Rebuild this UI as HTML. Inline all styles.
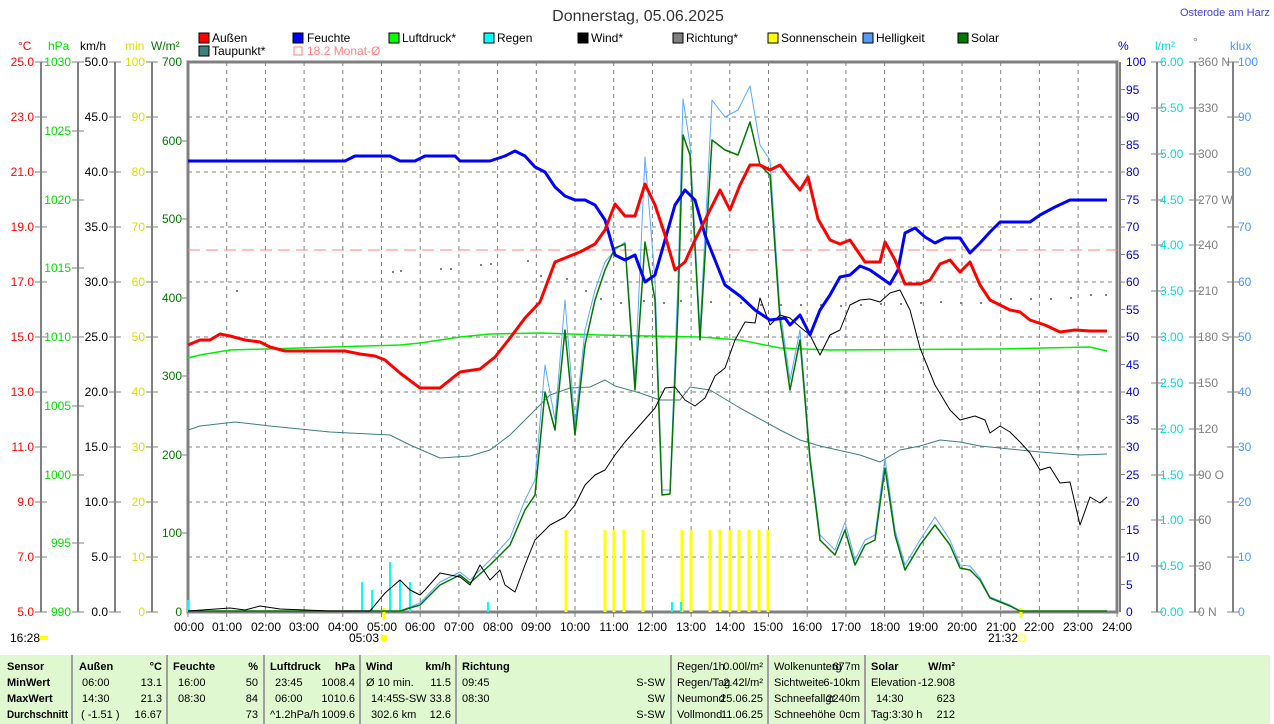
<!DOCTYPE html>
<html><head><meta charset="utf-8"><style>
body{margin:0;background:#fff;width:1274px;height:724px;overflow:hidden}
svg{position:absolute;left:0;top:0;font-family:"Liberation Sans",sans-serif;font-size:12px}
</style></head><body>
<svg width="1274" height="724" viewBox="0 0 1274 724">
<rect x="0" y="655" width="1270" height="69" fill="#E0F8D0"/>
<g stroke="#A0A0A0" stroke-width="2"><line x1="72" y1="655" x2="72" y2="724"/><line x1="167" y1="655" x2="167" y2="724"/><line x1="264" y1="655" x2="264" y2="724"/><line x1="360" y1="655" x2="360" y2="724"/><line x1="456" y1="655" x2="456" y2="724"/><line x1="671" y1="655" x2="671" y2="724"/><line x1="768" y1="655" x2="768" y2="724"/><line x1="865" y1="655" x2="865" y2="724"/></g>
<text x="638" y="21" font-size="16" text-anchor="middle" fill="#333">Donnerstag, 05.06.2025</text>
<text x="1180" y="16" font-size="11" fill="#4040E0">Osterode am Harz</text>
<g font-size="12">
<rect x="199" y="33" width="10" height="10" fill="red" stroke="#000"/><text x="212" y="42">Außen</text>
<rect x="293" y="33" width="10" height="10" fill="blue" stroke="#000"/><text x="307" y="42">Feuchte</text>
<rect x="389" y="33" width="10" height="10" fill="#00FF00" stroke="#000"/><text x="402" y="42">Luftdruck*</text>
<rect x="484" y="33" width="10" height="10" fill="cyan" stroke="#000"/><text x="497" y="42">Regen</text>
<rect x="578" y="33" width="10" height="10" fill="#000" stroke="#000"/><text x="591" y="42">Wind*</text>
<rect x="673" y="33" width="10" height="10" fill="#808080" stroke="#000"/><text x="686" y="42">Richtung*</text>
<rect x="768" y="33" width="10" height="10" fill="yellow" stroke="#000"/><text x="781" y="42">Sonnenschein</text>
<rect x="863" y="33" width="10" height="10" fill="#5599FF" stroke="#000"/><text x="876" y="42">Helligkeit</text>
<rect x="958" y="33" width="10" height="10" fill="#007700" stroke="#000"/><text x="971" y="42">Solar</text>
<rect x="199" y="46" width="10" height="10" fill="#3F7F7F" stroke="#000"/><text x="212" y="55">Taupunkt*</text>
<rect x="294" y="47" width="8" height="8" fill="none" stroke="#FF8080"/><text x="307" y="55" fill="#FF8080">18.2 Monat-Ø</text>
</g>
<text x="18" y="50" fill="red">°C</text><text x="48" y="50" fill="#00DD00">hPa</text><text x="80" y="50">km/h</text><text x="125" y="50" fill="#DDDD00">min</text><text x="151" y="50" fill="#007700">W/m²</text>
<text x="1118" y="50" fill="#0000CC">%</text><text x="1155" y="50" fill="#00DDDD">l/m²</text><text x="1193" y="46" fill="#808080">°</text><text x="1230" y="50" fill="#4499FF">klux</text>
<g stroke="#808080" stroke-dasharray="4,4" stroke-width="1">
<line x1="188" y1="117" x2="1117" y2="117"/><line x1="188" y1="172" x2="1117" y2="172"/><line x1="188" y1="227" x2="1117" y2="227"/><line x1="188" y1="282" x2="1117" y2="282"/><line x1="188" y1="337" x2="1117" y2="337"/><line x1="188" y1="392" x2="1117" y2="392"/><line x1="188" y1="447" x2="1117" y2="447"/><line x1="188" y1="502" x2="1117" y2="502"/><line x1="188" y1="557" x2="1117" y2="557"/>
<line x1="226.7" y1="62" x2="226.7" y2="612"/><line x1="265.4" y1="62" x2="265.4" y2="612"/><line x1="304.1" y1="62" x2="304.1" y2="612"/><line x1="342.8" y1="62" x2="342.8" y2="612"/><line x1="381.5" y1="62" x2="381.5" y2="612"/><line x1="420.2" y1="62" x2="420.2" y2="612"/><line x1="458.9" y1="62" x2="458.9" y2="612"/><line x1="497.6" y1="62" x2="497.6" y2="612"/><line x1="536.3" y1="62" x2="536.3" y2="612"/><line x1="575" y1="62" x2="575" y2="612"/><line x1="613.7" y1="62" x2="613.7" y2="612"/><line x1="652.4" y1="62" x2="652.4" y2="612"/><line x1="691.1" y1="62" x2="691.1" y2="612"/><line x1="729.8" y1="62" x2="729.8" y2="612"/><line x1="768.5" y1="62" x2="768.5" y2="612"/><line x1="807.2" y1="62" x2="807.2" y2="612"/><line x1="845.9" y1="62" x2="845.9" y2="612"/><line x1="884.6" y1="62" x2="884.6" y2="612"/><line x1="923.3" y1="62" x2="923.3" y2="612"/><line x1="962" y1="62" x2="962" y2="612"/><line x1="1000.7" y1="62" x2="1000.7" y2="612"/><line x1="1039.4" y1="62" x2="1039.4" y2="612"/><line x1="1078.1" y1="62" x2="1078.1" y2="612"/>
</g>
<g stroke="#808080" stroke-width="2"><line x1="41" y1="62" x2="41" y2="612"/><line x1="78" y1="62" x2="78" y2="612"/><line x1="115" y1="62" x2="115" y2="612"/><line x1="152" y1="62" x2="152" y2="612"/><line x1="1157" y1="62" x2="1157" y2="612"/><line x1="1195" y1="62" x2="1195" y2="612"/><line x1="1233" y1="62" x2="1233" y2="612"/></g>
<g stroke="#808080" stroke-width="1">
<path d="M35 62h12M35 117h12M35 172h12M35 227h12M35 282h12M35 337h12M35 392h12M35 447h12M35 502h12M35 557h12M35 612h12"/>
<path d="M72 62h12M72 131h12M72 200h12M72 268h12M72 337h12M72 406h12M72 475h12M72 543h12M72 612h12"/>
<path d="M109 62h12M109 117h12M109 172h12M109 227h12M109 282h12M109 337h12M109 392h12M109 447h12M109 502h12M109 557h12M109 612h12"/>
<path d="M146 62h12M146 117h12M146 172h12M146 227h12M146 282h12M146 337h12M146 392h12M146 447h12M146 502h12M146 557h12M146 612h12"/>
<path d="M182 141h6M182 219h6M182 298h6M182 376h6M182 455h6M182 533h6"/>
<path d="M1120 89.5h5M1120 144.5h5M1120 199.5h5M1120 254.5h5M1120 309.5h5M1120 364.5h5M1120 419.5h5M1120 474.5h5M1120 529.5h5M1120 584.5h5M1120 117h5M1120 172h5M1120 227h5M1120 282h5M1120 337h5M1120 392h5M1120 447h5M1120 502h5M1120 557h5"/>
<path d="M1151 62h12M1151 108h12M1151 154h12M1151 200h12M1151 245h12M1151 291h12M1151 337h12M1151 383h12M1151 429h12M1151 475h12M1151 520h12M1151 566h12M1151 612h12"/>
<path d="M1189 62h12M1189 108h12M1189 154h12M1189 200h12M1189 245h12M1189 291h12M1189 337h12M1189 383h12M1189 429h12M1189 475h12M1189 520h12M1189 566h12M1189 612h12"/>
<path d="M1227 62h12M1227 117h12M1227 172h12M1227 227h12M1227 282h12M1227 337h12M1227 392h12M1227 447h12M1227 502h12M1227 557h12M1227 612h12"/>
<path d="M188 612v5M226.7 612v5M265.4 612v5M304.1 612v5M342.8 612v5M381.5 612v5M420.2 612v5M458.9 612v5M497.6 612v5M536.3 612v5M575 612v5M613.7 612v5M652.4 612v5M691.1 612v5M729.8 612v5M768.5 612v5M807.2 612v5M845.9 612v5M884.6 612v5M923.3 612v5M962 612v5M1000.7 612v5M1039.4 612v5M1078.1 612v5M1117 612v5"/>
</g>
<rect x="188" y="62" width="929" height="550" fill="none" stroke="#808080" stroke-width="3"/>
<line x1="1120" y1="62" x2="1120" y2="612" stroke="#808080" stroke-width="2"/>
<g fill="red" text-anchor="end"><text x="34" y="66">25.0</text><text x="34" y="121">23.0</text><text x="34" y="176">21.0</text><text x="34" y="231">19.0</text><text x="34" y="286">17.0</text><text x="34" y="341">15.0</text><text x="34" y="396">13.0</text><text x="34" y="451">11.0</text><text x="34" y="506">9.0</text><text x="34" y="561">7.0</text><text x="34" y="616">5.0</text></g>
<g fill="#00DD00" text-anchor="end"><text x="71" y="66">1030</text><text x="71" y="135">1025</text><text x="71" y="204">1020</text><text x="71" y="272">1015</text><text x="71" y="341">1010</text><text x="71" y="410">1005</text><text x="71" y="479">1000</text><text x="71" y="547">995</text><text x="71" y="616">990</text></g>
<g fill="#000" text-anchor="end"><text x="108" y="66">50.0</text><text x="108" y="121">45.0</text><text x="108" y="176">40.0</text><text x="108" y="231">35.0</text><text x="108" y="286">30.0</text><text x="108" y="341">25.0</text><text x="108" y="396">20.0</text><text x="108" y="451">15.0</text><text x="108" y="506">10.0</text><text x="108" y="561">5.0</text><text x="108" y="616">0.0</text></g>
<g fill="#DDDD00" text-anchor="end"><text x="145" y="66">100</text><text x="145" y="121">90</text><text x="145" y="176">80</text><text x="145" y="231">70</text><text x="145" y="286">60</text><text x="145" y="341">50</text><text x="145" y="396">40</text><text x="145" y="451">30</text><text x="145" y="506">20</text><text x="145" y="561">10</text><text x="145" y="616">0</text></g>
<g fill="#007700" text-anchor="end"><text x="182" y="66">700</text><text x="182" y="145">600</text><text x="182" y="223">500</text><text x="182" y="302">400</text><text x="182" y="380">300</text><text x="182" y="459">200</text><text x="182" y="537">100</text><text x="182" y="616">0</text></g>
<g fill="#0000CC"><text x="1126" y="66">100</text><text x="1126" y="94">95</text><text x="1126" y="121">90</text><text x="1126" y="149">85</text><text x="1126" y="176">80</text><text x="1126" y="204">75</text><text x="1126" y="231">70</text><text x="1126" y="259">65</text><text x="1126" y="286">60</text><text x="1126" y="314">55</text><text x="1126" y="341">50</text><text x="1126" y="369">45</text><text x="1126" y="396">40</text><text x="1126" y="424">35</text><text x="1126" y="451">30</text><text x="1126" y="479">25</text><text x="1126" y="506">20</text><text x="1126" y="534">15</text><text x="1126" y="561">10</text><text x="1126" y="589">5</text><text x="1126" y="616">0</text></g>
<g fill="#00DDDD"><text x="1160" y="66">6.00</text><text x="1160" y="112">5.50</text><text x="1160" y="158">5.00</text><text x="1160" y="204">4.50</text><text x="1160" y="249">4.00</text><text x="1160" y="295">3.50</text><text x="1160" y="341">3.00</text><text x="1160" y="387">2.50</text><text x="1160" y="433">2.00</text><text x="1160" y="479">1.50</text><text x="1160" y="524">1.00</text><text x="1160" y="570">0.50</text><text x="1160" y="616">0.00</text></g>
<g fill="#808080"><text x="1198" y="66">360 N</text><text x="1198" y="112">330</text><text x="1198" y="158">300</text><text x="1198" y="204">270 W</text><text x="1198" y="249">240</text><text x="1198" y="295">210</text><text x="1198" y="341">180 S</text><text x="1198" y="387">150</text><text x="1198" y="433">120</text><text x="1198" y="479">90 O</text><text x="1198" y="524">60</text><text x="1198" y="570">30</text><text x="1198" y="616">0 N</text></g>
<g fill="#4499FF"><text x="1238" y="66">100</text><text x="1238" y="121">90</text><text x="1238" y="176">80</text><text x="1238" y="231">70</text><text x="1238" y="286">60</text><text x="1238" y="341">50</text><text x="1238" y="396">40</text><text x="1238" y="451">30</text><text x="1238" y="506">20</text><text x="1238" y="561">10</text><text x="1238" y="616">0</text></g>
<g text-anchor="middle"><text x="189" y="631">00:00</text><text x="227" y="631">01:00</text><text x="266" y="631">02:00</text><text x="304" y="631">03:00</text><text x="343" y="631">04:00</text><text x="382" y="631">05:00</text><text x="420" y="631">06:00</text><text x="459" y="631">07:00</text><text x="498" y="631">08:00</text><text x="536" y="631">09:00</text><text x="575" y="631">10:00</text><text x="614" y="631">11:00</text><text x="652" y="631">12:00</text><text x="691" y="631">13:00</text><text x="730" y="631">14:00</text><text x="768" y="631">15:00</text><text x="807" y="631">16:00</text><text x="846" y="631">17:00</text><text x="885" y="631">18:00</text><text x="923" y="631">19:00</text><text x="962" y="631">20:00</text><text x="1001" y="631">21:00</text><text x="1039" y="631">22:00</text><text x="1078" y="631">23:00</text><text x="1117" y="631">24:00</text>
<text x="364" y="642">05:03</text><text x="1003" y="642">21:32</text></g>
<text x="10" y="642">16:28</text><rect x="40" y="636" width="8" height="4" fill="yellow"/>
<circle cx="384" cy="638" r="3.5" fill="yellow"/><rect x="1019" y="635" width="6" height="6" fill="none" stroke="yellow"/>
<line x1="188" y1="250" x2="1117" y2="250" stroke="#FF8080" stroke-dasharray="12,6"/>
<g stroke="yellow" stroke-width="3"><line x1="566" y1="530" x2="566" y2="612"/><line x1="605" y1="530" x2="605" y2="612"/><line x1="614" y1="530" x2="614" y2="612"/><line x1="624" y1="530" x2="624" y2="612"/><line x1="643" y1="530" x2="643" y2="612"/><line x1="682" y1="530" x2="682" y2="612"/><line x1="691" y1="530" x2="691" y2="612"/><line x1="710" y1="530" x2="710" y2="612"/><line x1="720" y1="530" x2="720" y2="612"/><line x1="730" y1="530" x2="730" y2="612"/><line x1="739" y1="530" x2="739" y2="612"/><line x1="749" y1="530" x2="749" y2="612"/><line x1="759" y1="530" x2="759" y2="612"/><line x1="768" y1="530" x2="768" y2="612"/><line x1="384" y1="608" x2="384" y2="620"/><line x1="1021" y1="608" x2="1021" y2="618"/></g>
<g stroke="cyan" stroke-width="2"><line x1="188" y1="600" x2="188" y2="612"/><line x1="362" y1="582" x2="362" y2="612"/><line x1="372" y1="590" x2="372" y2="612"/><line x1="390" y1="562" x2="390" y2="612"/><line x1="400" y1="580" x2="400" y2="612"/><line x1="410" y1="582" x2="410" y2="612"/><line x1="488" y1="602" x2="488" y2="612"/><line x1="672" y1="602" x2="672" y2="612"/><line x1="681" y1="602" x2="681" y2="612"/></g>
<g fill="#808080"><rect x="236" y="290" width="2" height="2"/><rect x="392" y="271" width="2" height="2"/><rect x="400" y="270" width="2" height="2"/><rect x="440" y="268" width="2" height="2"/><rect x="450" y="268" width="2" height="2"/><rect x="480" y="264" width="2" height="2"/><rect x="490" y="263" width="2" height="2"/><rect x="527" y="260" width="2" height="2"/><rect x="540" y="275" width="2" height="2"/><rect x="566" y="278" width="2" height="2"/><rect x="585" y="290" width="2" height="2"/><rect x="600" y="298" width="2" height="2"/><rect x="620" y="302" width="2" height="2"/><rect x="643" y="300" width="2" height="2"/><rect x="663" y="302" width="2" height="2"/><rect x="680" y="300" width="2" height="2"/><rect x="710" y="301" width="2" height="2"/><rect x="740" y="302" width="2" height="2"/><rect x="760" y="304" width="2" height="2"/><rect x="780" y="304" width="2" height="2"/><rect x="800" y="304" width="2" height="2"/><rect x="820" y="304" width="2" height="2"/><rect x="840" y="305" width="2" height="2"/><rect x="860" y="304" width="2" height="2"/><rect x="880" y="303" width="2" height="2"/><rect x="900" y="303" width="2" height="2"/><rect x="920" y="302" width="2" height="2"/><rect x="940" y="301" width="2" height="2"/><rect x="960" y="302" width="2" height="2"/><rect x="980" y="302" width="2" height="2"/><rect x="1010" y="298" width="2" height="2"/><rect x="1030" y="298" width="2" height="2"/><rect x="1050" y="298" width="2" height="2"/><rect x="1070" y="297" width="2" height="2"/><rect x="1090" y="294" width="2" height="2"/><rect x="1105" y="294" width="2" height="2"/></g>
<g fill="none" stroke-linejoin="round">
<polyline stroke="#3F7F7F" stroke-width="1" points="188,430 200,426 235,422 270,426 330,432 390,435 410,445 440,458 470,456 490,450 510,435 530,415 550,395 570,388 590,387 605,380 615,386 640,393 660,400 680,400 690,387 710,390 740,408 780,430 800,440 820,446 860,455 880,462 900,450 920,446 940,440 960,442 980,446 1000,448 1040,452 1080,455 1107,454"/>
<polyline stroke="#00EE00" stroke-width="1.5" points="188,358 200,355 230,350 300,348 400,345 420,343 440,340 460,337 490,334 540,333 600,335 700,337 740,340 780,348 830,350 1000,349 1090,347 1107,351"/>
<polyline stroke="#5AA8FF" stroke-width="1" points="188,611 400,611 420,603 440,582 460,572 470,580 490,560 510,538 525,500 535,480 545,365 555,420 565,300 575,425 585,330 595,290 605,262 615,250 625,242 635,380 645,157 655,280 662,490 670,490 678,280 683,99 690,145 700,330 712,100 725,117 738,110 750,86 760,145 770,160 780,310 790,380 800,330 810,455 820,535 835,550 845,522 855,560 865,540 875,535 885,458 895,530 905,565 920,540 935,517 950,540 960,565 970,566 980,578 990,597 1010,605 1020,611 1107,611"/>
<polyline stroke="#007700" stroke-width="1.5" points="188,611 400,611 420,605 440,585 460,575 470,583 490,565 510,545 525,510 535,495 545,392 555,430 565,330 575,435 585,345 595,300 605,270 615,248 625,244 635,390 645,242 655,300 662,495 670,494 678,308 683,135 690,155 700,340 712,140 725,150 738,155 750,122 760,165 770,175 780,320 790,390 800,340 810,460 820,540 835,555 845,530 855,565 865,545 875,540 885,468 895,535 905,570 920,545 935,525 950,545 960,568 970,570 980,580 990,598 1010,606 1020,611 1107,611"/>
<polyline stroke="#000" stroke-width="1" points="188,611 230,608 245,610 260,606 280,609 330,611 370,611 385,593 400,580 410,590 420,595 425,590 440,573 460,577 470,585 480,565 490,580 500,570 505,585 515,592 525,565 535,540 550,525 565,517 575,505 585,485 595,475 605,470 615,455 625,442 640,425 655,408 665,388 675,387 685,400 695,406 705,398 715,376 725,368 735,340 745,322 755,323 760,298 770,325 780,315 790,318 800,327 810,335 820,355 830,335 840,330 850,305 860,300 870,299 880,302 890,293 900,290 910,310 920,348 935,385 950,410 960,420 975,416 985,420 990,433 1000,426 1010,432 1020,442 1030,453 1040,470 1050,467 1060,483 1070,482 1080,525 1090,497 1100,503 1107,497"/>
<polyline stroke="blue" stroke-width="3" points="188,161 345,161 355,156 390,156 400,161 415,161 425,156 455,156 460,161 490,161 505,156 515,151 525,156 535,167 545,172 555,187 565,196 575,200 585,200 595,205 605,220 615,255 625,260 635,255 645,282 655,275 665,240 675,205 685,190 695,200 705,235 715,260 725,285 740,296 755,310 770,320 785,318 790,325 800,315 810,335 820,310 830,295 840,277 850,275 860,266 870,270 880,277 890,284 898,270 905,233 915,228 925,237 935,243 945,238 960,238 970,253 980,243 990,232 1000,222 1030,222 1040,215 1055,207 1070,200 1107,200"/>
<polyline stroke="red" stroke-width="3" points="188,345 200,340 210,340 220,334 230,336 245,340 260,342 270,347 285,351 300,351 345,351 360,354 375,356 385,360 400,373 420,388 440,388 460,372 480,369 495,357 510,338 525,318 540,302 555,262 570,256 580,252 595,244 605,230 615,204 625,216 635,216 645,184 655,205 665,235 675,270 685,262 695,240 710,210 720,190 730,210 740,185 750,165 760,165 770,170 780,165 790,178 800,190 808,177 818,219 830,240 840,244 850,240 865,262 880,262 885,242 895,260 905,284 920,284 930,280 940,264 950,260 960,272 970,262 980,285 990,300 1010,310 1020,312 1030,320 1045,325 1060,332 1075,330 1090,331 1107,331"/>
</g>
<g font-size="11">
<g font-weight="bold"><text x="7" y="670">Sensor</text><text x="7" y="686">MinWert</text><text x="7" y="702">MaxWert</text><text x="7" y="718" textLength="61" lengthAdjust="spacingAndGlyphs">Durchschnitt</text>
<text x="79" y="670">Außen</text><text x="162" y="670" text-anchor="end">°C</text>
<text x="173" y="670">Feuchte</text><text x="258" y="670" text-anchor="end">%</text>
<text x="270" y="670">Luftdruck</text><text x="355" y="670" text-anchor="end">hPa</text>
<text x="366" y="670">Wind</text><text x="451" y="670" text-anchor="end">km/h</text>
<text x="462" y="670">Richtung</text>
<text x="871" y="670">Solar</text><text x="955" y="670" text-anchor="end">W/m²</text></g>
<text x="82" y="686">06:00</text><text x="162" y="686" text-anchor="end">13.1</text>
<text x="82" y="702">14:30</text><text x="162" y="702" text-anchor="end">21.3</text>
<text x="81" y="718">( -1.51 )</text><text x="162" y="718" text-anchor="end">16.67</text>
<text x="178" y="686">16:00</text><text x="258" y="686" text-anchor="end">50</text>
<text x="178" y="702">08:30</text><text x="258" y="702" text-anchor="end">84</text>
<text x="258" y="718" text-anchor="end">73</text>
<text x="275" y="686">23:45</text><text x="355" y="686" text-anchor="end">1008.4</text>
<text x="275" y="702">06:00</text><text x="355" y="702" text-anchor="end">1010.6</text>
<text x="270" y="718">^1.2hPa/h</text><text x="355" y="718" text-anchor="end">1009.6</text>
<text x="366" y="686">Ø 10 min.</text><text x="451" y="686" text-anchor="end">11.5</text>
<text x="371" y="702">14:45</text><text x="451" y="702" text-anchor="end">S-SW 33.8</text>
<text x="371" y="718">302.6 km</text><text x="451" y="718" text-anchor="end">12.6</text>
<text x="462" y="686">09:45</text><text x="665" y="686" text-anchor="end">S-SW</text>
<text x="462" y="702">08:30</text><text x="665" y="702" text-anchor="end">SW</text>
<text x="665" y="718" text-anchor="end">S-SW</text>
<text x="677" y="670">Regen/1h</text><text x="763" y="670" text-anchor="end">0.00l/m²</text>
<text x="677" y="686">Regen/Tag</text><text x="763" y="686" text-anchor="end">2.42l/m²</text>
<text x="677" y="702">Neumond</text><text x="763" y="702" text-anchor="end">25.06.25</text>
<text x="677" y="718">Vollmond</text><text x="763" y="718" text-anchor="end">11.06.25</text>
<text x="774" y="670">Wolkenunterg</text><text x="860" y="670" text-anchor="end">677m</text>
<text x="774" y="686">Sichtweite</text><text x="860" y="686" text-anchor="end">6-10km</text>
<text x="774" y="702">Schneefallgr</text><text x="860" y="702" text-anchor="end">2240m</text>
<text x="774" y="718">Schneehöhe</text><text x="860" y="718" text-anchor="end">0cm</text>
<text x="871" y="686">Elevation</text><text x="955" y="686" text-anchor="end">-12.908</text>
<text x="876" y="702">14:30</text><text x="955" y="702" text-anchor="end">623</text>
<text x="871" y="718">Tag:3:30 h</text><text x="955" y="718" text-anchor="end">212</text>
</g>
</svg>
</body></html>
